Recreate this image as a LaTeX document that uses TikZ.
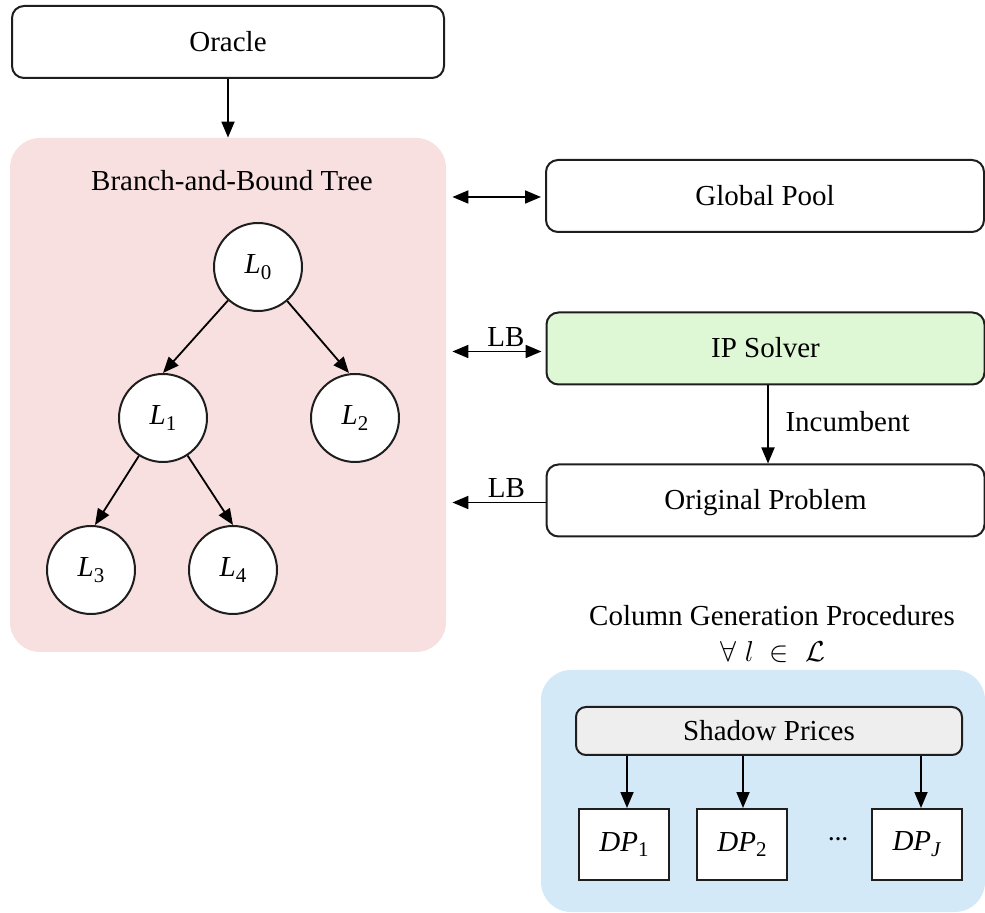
\documentclass[tikz,border=0pt]{standalone}
\usepackage{fontspec}
\setmainfont{Liberation Serif}
\usetikzlibrary{arrows.meta,calc}
\definecolor{pinkbg}{RGB}{248,223,224}
\definecolor{greenbg}{RGB}{222,248,214}
\definecolor{bluebg}{RGB}{212,233,248}
\definecolor{graybg}{RGB}{238,238,238}
\definecolor{edge}{RGB}{30,30,30}
\newcommand\Lsub[2]{\textit{#1}\raisebox{-0.2em}{\fontsize{10.5}{11}\selectfont #2}}
\tikzset{
  wbox/.style={draw=edge, line width=1pt, rounded corners=6pt, fill=white,
    minimum width=219pt, minimum height=36pt, inner sep=0pt, text depth=0pt, text height=9.5pt},
  circ/.style={circle, draw=edge, line width=1pt, fill=white, minimum size=44pt, inner sep=0pt},
  dpbox/.style={draw=edge, line width=1pt, fill=white, minimum width=45pt, minimum height=35.5pt, inner sep=0pt},
  panel/.style={rounded corners=15pt, inner sep=0pt},
  arr/.style={-{Triangle[length=8pt,width=6.5pt]}, line width=0.9pt},
  darr/.style={{Triangle[length=8pt,width=6.5pt]}-{Triangle[length=8pt,width=6.5pt]}, line width=0.9pt},
}
\begin{document}
\begin{tikzpicture}[x=0.5pt,y=-0.5pt,font=\fontsize{14.5}{17}\selectfont]
\useasboundingbox (0,0) rectangle (985,913);
% panels
\node[panel, fill=pinkbg, minimum width=218pt, minimum height=257pt] (bnb) at (228,395) {};
\node[panel, fill=bluebg, minimum width=222pt, minimum height=121pt] (cg) at (763,791) {};
% top
\node[wbox, minimum width=216pt] (oracle) at (228,42) {Oracle};
\draw[arr] (oracle.south) -- (oracle.south |- bnb.north);
% tree
\node (bnbt) at (232,181) {Branch-and-Bound Tree};
\node[circ] (L0) at (258,267) {\Lsub{L}{0}};
\node[circ] (L1) at (163,418) {\Lsub{L}{1}};
\node[circ] (L2) at (355,418) {\Lsub{L}{2}};
\node[circ] (L3) at (91,570) {\Lsub{L}{3}};
\node[circ] (L4) at (233,570) {\Lsub{L}{4}};
\draw[arr] (L0) -- (L1.north);
\draw[arr] (L0) -- ([xshift=-3pt]L2.north);
\draw[arr] (L1) -- ([xshift=2pt]L3.north);
\draw[arr] (L1) -- (L4.north);
% right column
\node[wbox] (gp) at (765,196) {Global Pool};
\node[wbox, fill=greenbg] (ip) at (765.5,348.5) {IP Solver};
\node[wbox] (op) at (765.5,500.5) {Original Problem};
\draw[darr] ($(bnb.east |- gp.west)+(6,1)$) -- ($(gp.west)+(-4,1)$);
\draw[darr] ($(bnb.east |- ip.west)+(6,3)$) -- ($(ip.west)+(-4,3)$)
  node[pos=0.6, above, inner sep=2pt] (lb1) {LB};
\draw[arr] ($(op.west)+(0,2)$) -- ($(bnb.east |- op.west)+(6,2)$)
  node[pos=0.42, above, inner sep=2pt] (lb2) {LB};
\draw[arr] ($(ip.south)+(2.5,0)$) -- ($(op.north)+(2.5,0)$)
  node[midway, right, xshift=5pt, yshift=1.5pt] (inc) {Incumbent};
% column generation
\node (cgt) at (772,616) {Column Generation Procedures};
\node (cgm) at (773,652) {$\forall\; l\;\in\;\mathcal{L}$};
\node[draw=edge, line width=1pt, rounded corners=5pt, fill=graybg,
  minimum width=193pt, minimum height=24pt, inner sep=0pt] (sp) at (769,731) {Shadow Prices};
\node[dpbox] (dp1) at (624,844.5) {\Lsub{DP}{1}};
\node[dpbox] (dp2) at (742,844.5) {\Lsub{DP}{2}};
\node[dpbox] (dpj) at (916.5,844.5) {\textit{DP}\raisebox{-0.2em}{\fontsize{10.5}{11}\selectfont\itshape J}};
\node[font=\fontsize{10}{10}\selectfont\bfseries, anchor=base] (dots) at (838,840) {…};
\draw[arr] ($(sp.south -| dp1.north)+(3,0)$) -- ($(dp1.north)+(3,0)$);
\draw[arr] ($(sp.south -| dp2.north)+(1,0)$) -- ($(dp2.north)+(1,0)$);
\draw[arr] ($(sp.south -| dpj.north)+(4.5,0)$) -- ($(dpj.north)+(4.5,0)$);
\end{tikzpicture}
\end{document}
